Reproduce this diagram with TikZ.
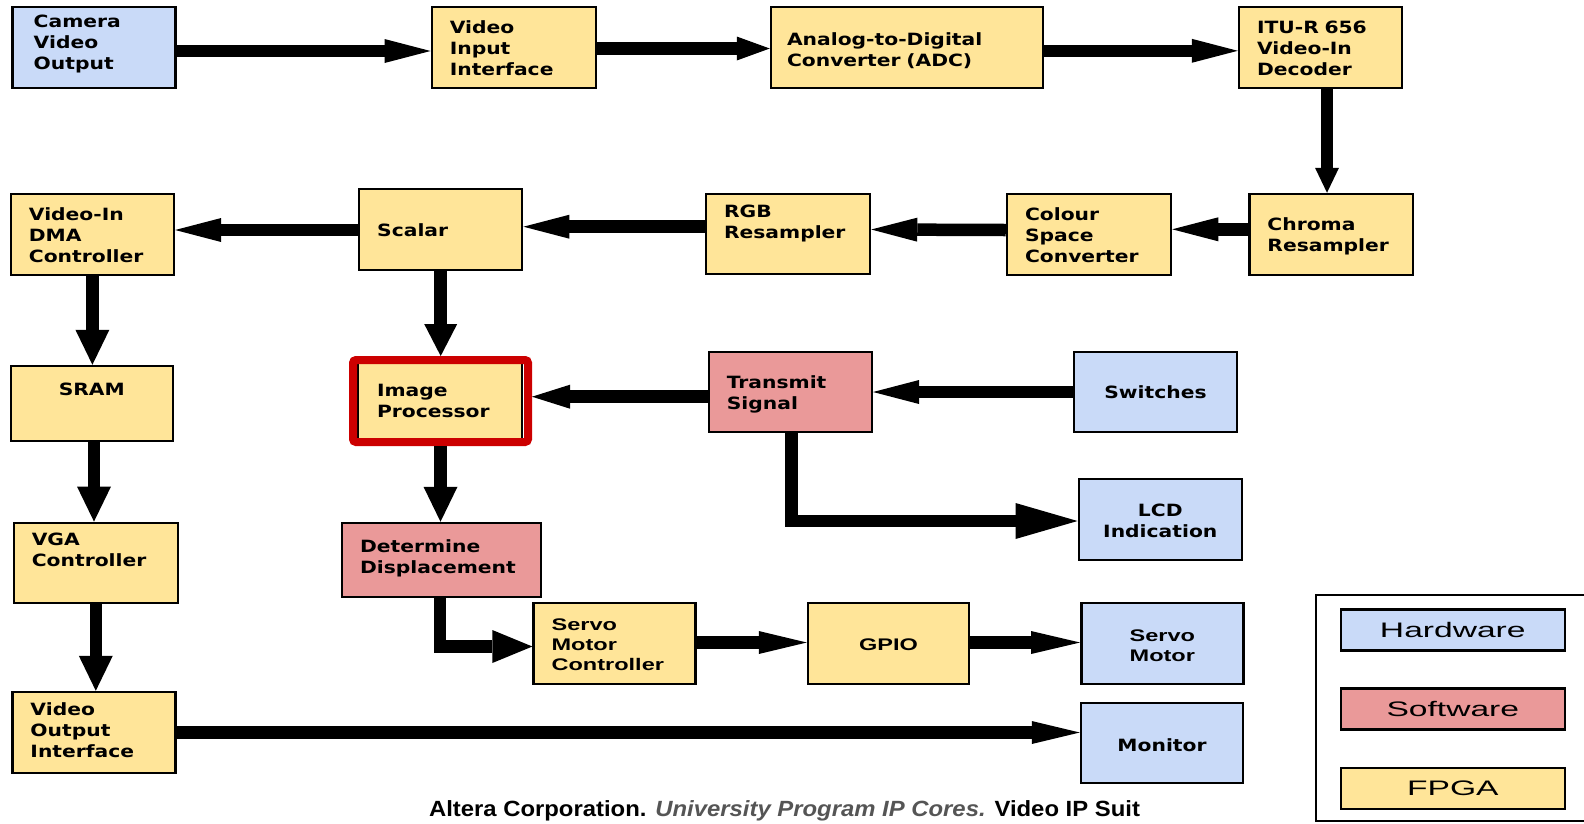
\documentclass[tikz,border=0pt]{standalone}
\usepackage{fontspec}
\setmainfont{DejaVu Sans}
\newfontfamily\boxfont{DejaVu Sans}[FakeStretch=1.2]
\newfontfamily\armfont{Liberation Sans}[FakeStretch=1.4]
\newfontfamily\legfont{Liberation Sans}[FakeStretch=1.6]
\newfontfamily\capfont{Liberation Sans}[FakeStretch=1.085]
\usetikzlibrary{arrows.meta}
\definecolor{hwblue}{HTML}{C9DAF8}
\definecolor{swred}{HTML}{EA9999}
\definecolor{fpgay}{HTML}{FFE599}
\definecolor{hilite}{HTML}{CC0000}
\definecolor{capgray}{HTML}{555555}
\tikzset{
  blk/.style={draw, line width=2.5pt, inner xsep=18pt, inner ysep=0pt, align=left,
    font=\boxfont\bfseries\fontsize{16.9}{21}\selectfont},
  ctr/.style={align=center},
  arial/.style={font=\armfont\bfseries\fontsize{16.8}{20.3}\selectfont},
  hwbox/.style={fill=hwblue},
  swbox/.style={fill=swred},
  fpbox/.style={fill=fpgay},
  key/.style={draw, line width=2.5pt, minimum width=224pt, minimum height=41pt,
    font=\legfont\fontsize{21}{25}\selectfont},
  arr/.style 2 args={line width=12.5pt, -{Triangle[length=#1,width=#2,line width=0pt]}},
  flow/.style={arr={46pt}{24pt}},
  drop/.style={arr={35pt}{34pt}}
}
\begin{document}
\begin{tikzpicture}[x=1pt, y=-1pt]
  \useasboundingbox (0,0) rectangle (1584,823);
  % top row
  \node[blk, hwbox, minimum width=163pt, minimum height=81pt, inner xsep=21pt, text width=121pt, text height=20.3pt, text depth=60.7pt] (cam) at (94.2,47.5) {Camera\\Video\\Output};
  \node[blk, fpbox, minimum width=164pt, minimum height=81pt, text width=128pt, text height=26pt, text depth=55pt] (vii) at (513.8,47.5) {Video\\Input\\Interface};
  \node[blk, fpbox, minimum width=272pt, minimum height=81pt, inner xsep=16pt, text width=240pt, text height=38.7pt, text depth=42.3pt] (adc) at (907,47.5) {Analog-to-Digital\\Converter (ADC)};
  \node[blk, fpbox, minimum width=163pt, minimum height=81pt, text width=127pt, text height=26pt, text depth=55pt] (itu) at (1320.5,47.5) {ITU-R 656\\Video-In\\Decoder};
  % second row
  \node[blk, fpbox, minimum width=163pt, minimum height=81pt, text width=127pt, text height=26.3pt, text depth=54.7pt] (dma) at (92.4,234.5) {Video-In\\DMA\\Controller};
  \node[blk, fpbox, minimum width=163pt, minimum height=81pt, text width=127pt, text height=47.3pt, text depth=33.7pt] (scal) at (440.7,229.5) {Scalar};
  \node[blk, fpbox, minimum width=164pt, minimum height=80pt, text width=128pt, text height=23.3pt, text depth=56.7pt] (rgb) at (788,234) {RGB\\Resampler};
  \node[blk, fpbox, minimum width=164pt, minimum height=81pt, text width=128pt, text height=26.3pt, text depth=54.7pt] (csc) at (1089,234.5) {Colour\\Space\\Converter};
  \node[blk, fpbox, minimum width=163.5pt, minimum height=81pt, text width=127.5pt, text height=36.3pt, text depth=44.7pt] (chr) at (1331.2,234.5) {Chroma\\Resampler};
  % middle
  \node[blk, fpbox, ctr, minimum width=162pt, minimum height=75pt, text width=126pt, text height=29.3pt, text depth=45.7pt] (sram) at (91.8,403.5) {SRAM};
  \node[blk, fpbox, minimum width=164pt, minimum height=82pt, inner xsep=19pt, text width=126pt, text height=37.3pt, text depth=44.7pt] (ip) at (440,400) {Image\\Processor};
  \node[draw=hilite, line width=8pt, rounded corners=3pt, inner sep=0pt, minimum width=175pt, minimum height=82pt] (hl) at (440.5,401) {};
  \node[blk, swbox, minimum width=163pt, minimum height=80pt, text width=127pt, text height=36.3pt, text depth=43.7pt] (tx) at (790.3,392) {Transmit\\Signal};
  \node[blk, hwbox, ctr, minimum width=163pt, minimum height=80pt, text width=127pt, text height=46pt, text depth=34pt] (sw) at (1155.5,392) {Switches};
  \node[blk, hwbox, ctr, minimum width=163pt, minimum height=81pt, text width=127pt, text height=37.7pt, text depth=43.3pt] (lcd) at (1160.3,519.5) {LCD\\Indication};
  % lower rows
  \node[blk, fpbox, minimum width=164pt, minimum height=80pt, text width=128pt, text height=22.6pt, text depth=57.4pt] (vga) at (95.8,562.8) {VGA\\Controller};
  \node[blk, swbox, minimum width=199pt, minimum height=74pt, text width=163pt, text height=29.3pt, text depth=44.7pt] (det) at (441.5,560) {Determine\\Displacement};
  \node[blk, fpbox, arial, minimum width=162pt, minimum height=81pt, text width=126pt, text height=27pt, text depth=54pt] (smc) at (614.6,643.5) {Servo\\Motor\\Controller};
  \node[blk, fpbox, arial, ctr, minimum width=161pt, minimum height=81pt, text width=125pt, text height=47pt, text depth=34pt] (gpio) at (888.5,643.5) {GPIO};
  \node[blk, hwbox, arial, ctr, minimum width=162pt, minimum height=81pt, text width=126pt, text height=38pt, text depth=43pt] (servo) at (1162.3,643.5) {Servo\\Motor};
  \node[blk, fpbox, minimum width=163pt, minimum height=81pt, text width=127pt, text height=23.3pt, text depth=57.7pt] (voi) at (94,732.5) {Video\\Output\\Interface};
  \node[blk, hwbox, ctr, minimum width=162pt, minimum height=80pt, text width=126pt, text height=48pt, text depth=32pt] (mon) at (1162,743) {Monitor};
  % connectors
  \draw[flow] ([yshift=-3.5pt]cam.east) -- ([yshift=-3.5pt]vii.west);
  \draw[arr={33pt}{24pt}] ([yshift=-1pt]vii.east) -- ([yshift=-1pt]adc.west);
  \draw[flow] ([yshift=-3.3pt]adc.east) -- ([yshift=-3.3pt]itu.west);
  \draw[arr={25pt}{24pt}] ([xshift=6.5pt]itu.south) -- ([xshift=-4.2pt]chr.north);
  \draw[flow] ([yshift=5.2pt]chr.west) -- ([yshift=5.2pt]csc.east);
  \draw[flow] ([yshift=4.5pt]csc.west) -- ([yshift=4.5pt]rgb.east);
  \draw[flow] ([yshift=7.3pt]rgb.west) -- ([yshift=2.8pt]scal.east);
  \draw[flow] ([yshift=-0.5pt]scal.west) -- ([yshift=4.5pt]dma.east);
  \draw[drop] (dma.south) -- (dma.south |- sram.north);
  \draw[drop] ([xshift=2.2pt]sram.south) -- ([xshift=2.2pt]sram.south |- vga.north);
  \draw[drop] (vga.south) -- (vga.south |- voi.north);
  \draw[arr={48pt}{23pt}] (voi.east) -- (voi.east -| mon.west);
  \draw[arr={32pt}{33pt}] (scal.south) -- (scal.south |- hl.north);
  \draw[arr={38pt}{24pt}] ([yshift=-4.7pt]tx.west) -- ([yshift=-4.7pt]tx.west -| hl.east);
  \draw[flow] (sw.west) -- (tx.east);
  \draw[arr={62pt}{36pt}] ([xshift=1.2pt]tx.south) |- ([yshift=-1.5pt]lcd.west);
  \draw[drop] (hl.south) -- (hl.south |- det.north);
  \draw[arr={40pt}{33pt}] ([xshift=-1.5pt]det.south) |- ([yshift=-3pt]smc.west);
  \draw[arr={48pt}{23pt}] ([yshift=1pt]smc.east) -- ([yshift=1pt]gpio.west);
  \draw[arr={49pt}{23pt}] ([yshift=1pt]gpio.east) -- ([yshift=1pt]servo.west);
  % legend
  \draw[line width=2.5pt] (1584,595) -| (1316,821) -- (1584,821);
  \node[key, hwbox] (hwkey) at (1452.8,630) {Hardware};
  \node[key, swbox] (swkey) at (1452.8,709) {Software};
  \node[key, fpbox] (fpkey) at (1452.8,788.5) {FPGA};
  \node[font=\capfont\bfseries\fontsize{22}{26}\selectfont, anchor=base, inner sep=0pt] (src) at (784.5,816)
    {Altera Corporation. \textcolor{capgray}{\itshape University Program IP Cores.} Video IP Suit};
\end{tikzpicture}
\end{document}
